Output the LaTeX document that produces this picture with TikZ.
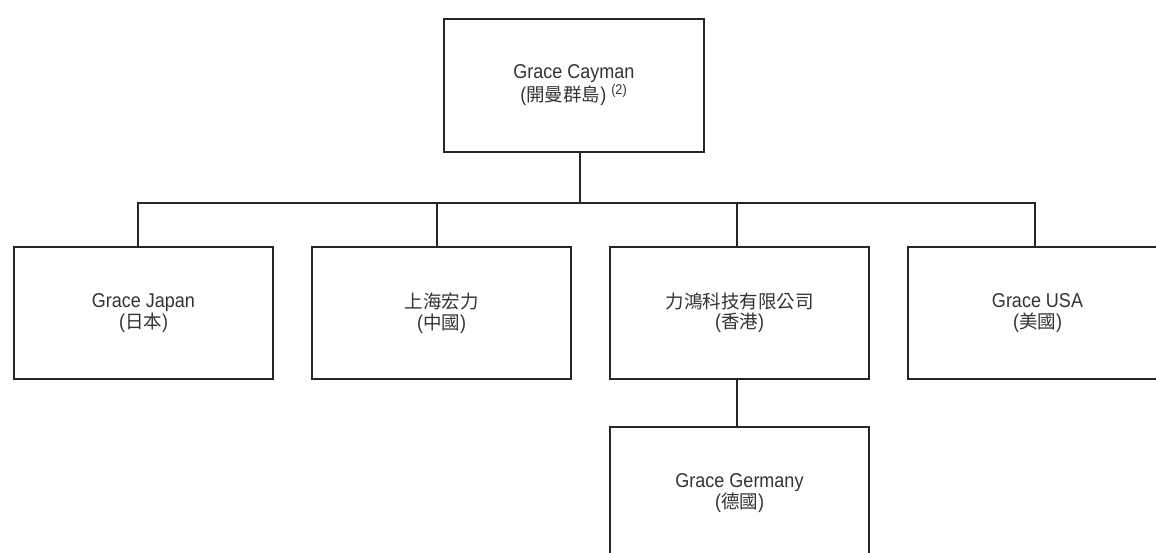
\documentclass[tikz,border=0pt]{standalone}
\usepackage{fontspec}
\setmainfont{Liberation Sans}[FakeStretch=0.9]
\newfontfamily\cjk{Noto Sans CJK TC}[Scale=0.925]
\usetikzlibrary{positioning}

\begin{document}
\begin{tikzpicture}[x=0.5pt,y=-0.5pt,node distance=23pt and 18.5pt,
                    box/.style={draw=black!85,line width=1pt,minimum width=129.5pt,
                                minimum height=66pt,inner sep=0pt,align=center,
                                text=black!80,font=\fontsize{10}{10.25}\selectfont},
                    conn/.style={draw=black!85,line width=1pt}]

  \path[use as bounding box,clip] (0,0) rectangle (1156,552);

  \node[box,minimum width=130pt,minimum height=66.5pt] (cayman) at (574,85)
        {Grace Cayman\\({\cjk 開曼群島}) \textsuperscript{(2)}};
  \node[box] (japan)  at (143.5,313) {Grace Japan\\({\cjk 日本})};
  \node[box] (hongli)  [right=of japan]  {{\cjk 上海宏力}\\({\cjk 中國})};
  \node[box] (lihong)  [right=of hongli] {{\cjk 力鴻科技有限公司}\\({\cjk 香港})};
  \node[box] (usa)     [right=of lihong] {Grace USA\\({\cjk 美國})};
  \node[box] (germany) [below=of lihong] {Grace Germany\\({\cjk 德國})};

  \draw[conn] ([xshift=3pt]cayman.south) -- ++(0,-25pt) coordinate (bus);
  \draw[conn] ([xshift=-2.75pt]japan.north) |- (bus) -| ([xshift=-1.25pt]usa.north);
  \draw[conn] ([xshift=-2.5pt]hongli.north) |- (bus);
  \draw[conn] ([xshift=-1.25pt]lihong.north) |- (bus);
  \draw[conn] ([xshift=-1.25pt]lihong.south) -- ([xshift=-1.25pt]germany.north);
\end{tikzpicture}
\end{document}
